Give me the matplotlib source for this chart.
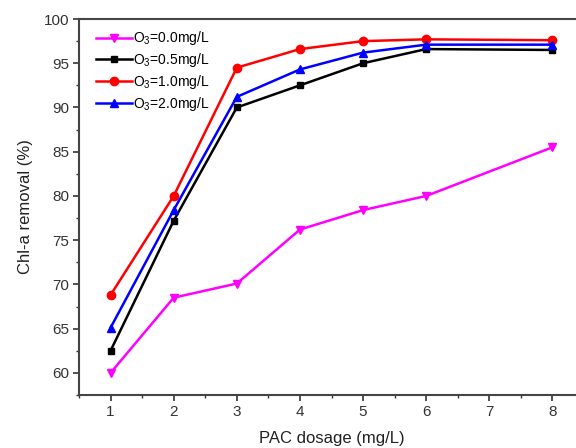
import matplotlib
matplotlib.use("Agg")
import matplotlib.pyplot as plt
from matplotlib.ticker import MultipleLocator

plt.rcParams['font.family'] = ['Liberation Sans', 'DejaVu Sans']
plt.rcParams['mathtext.fontset'] = 'custom'
plt.rcParams['mathtext.rm'] = 'Liberation Sans'

pac = [1, 2, 3, 4, 5, 6, 8]
o3_00 = [60.0, 68.5, 70.1, 76.2, 78.4, 80.0, 85.5]
o3_05 = [62.5, 77.2, 90.0, 92.5, 95.0, 96.6, 96.5]
o3_10 = [68.8, 80.0, 94.5, 96.6, 97.5, 97.7, 97.6]
o3_20 = [65.1, 78.4, 91.2, 94.3, 96.2, 97.1, 97.1]

labels = ["O$_3$=0.0mg/L", "O$_3$=0.5mg/L", "O$_3$=1.0mg/L", "O$_3$=2.0mg/L"]

fig = plt.figure(figsize=(5.76, 4.48), dpi=100)
ax = fig.add_axes([79/576, 53/448, 505/576, 376/448])

ax.plot(pac, o3_00, color='#ff00ff', marker='v', ms=6, lw=1.8, label=labels[0])
ax.plot(pac, o3_05, color='black', marker='s', ms=5, lw=1.8, label=labels[1])
ax.plot(pac, o3_10, color='red', marker='o', ms=6, lw=1.8, label=labels[2])
ax.plot(pac, o3_20, color='blue', marker='^', ms=6, lw=1.8, label=labels[3])

ax.set_xlim(0.5, 8.5)
ax.set_ylim(57.5, 100)
ax.xaxis.set_major_locator(MultipleLocator(1))
ax.xaxis.set_minor_locator(MultipleLocator(0.5))
ax.yaxis.set_major_locator(MultipleLocator(5))
ax.yaxis.set_minor_locator(MultipleLocator(2.5))
ax.tick_params(which='major', direction='out', length=4, width=1.2, pad=3,
               labelsize=11, colors='#333333')
ax.tick_params(which='minor', direction='out', length=2.5, width=1.0, colors='#333333')
for sp in ax.spines.values():
    sp.set_color('#444444')
    sp.set_linewidth(1.5)

ax.set_xlabel("PAC dosage (mg/L)", fontsize=12, color='#222222', labelpad=9)
ax.set_ylabel("Chl-a removal (%)", fontsize=12, color='#222222', labelpad=8)

ax.legend(loc='upper left', bbox_to_anchor=(0.013, 1.0), frameon=False, fontsize=10,
          handlelength=2.6, handletextpad=0.1, labelspacing=0.27, borderaxespad=0.35)

fig.savefig("out.png", dpi=100)
